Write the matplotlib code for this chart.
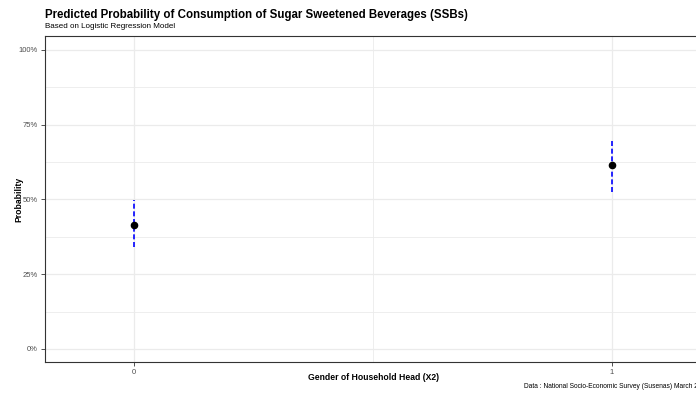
import matplotlib
matplotlib.use("Agg")
import matplotlib.pyplot as plt
from matplotlib.ticker import PercentFormatter, MultipleLocator

plt.rcParams['font.family'] = ['Liberation Sans', 'DejaVu Sans']

# predicted probabilities by gender of household head
groups = [0, 1]
group_labels = ["0", "1"]
prob = [0.416, 0.615]
ci_low = [0.341, 0.525]
ci_high = [0.498, 0.699]

fig = plt.figure(figsize=(6.96, 3.94), dpi=100)
W, H = 696, 394
left, right, top, bottom = 45, 701, 36, 362
ax = fig.add_axes([left / W, 1 - bottom / H, (right - left) / W, (bottom - top) / H])

# grid
ax.set_axisbelow(True)
ax.yaxis.set_major_locator(MultipleLocator(0.25))
ax.yaxis.set_minor_locator(MultipleLocator(0.125))
ax.set_xticks(groups)
ax.set_xticks([0.5], minor=True)
ax.grid(which='major', color='#ebebeb', linewidth=0.9)
ax.grid(which='minor', color='#ebebeb', linewidth=0.6)
ax.tick_params(which='minor', length=0)

# confidence intervals (dashed) and points
for g, lo, hi in zip(groups, ci_low, ci_high):
    ax.plot([g, g], [lo, hi], color='blue', linestyle=(0, (3, 1.6)), linewidth=1.2, zorder=2)
ax.scatter(groups, prob, s=20, color='black', zorder=3)

ax.set_xlim(-0.186, 1.186)
ax.set_ylim(-0.0435, 1.0468)
ax.yaxis.set_major_formatter(PercentFormatter(1.0, decimals=0))
ax.set_xticklabels(group_labels)

for s in ['left', 'bottom', 'top', 'right']:
    ax.spines[s].set_color('#333333')
    ax.spines[s].set_linewidth(0.8)
ax.tick_params(axis='both', which='major', labelsize=5.5, labelcolor='#4d4d4d',
               color='#333333', length=3, width=0.6, pad=2)

fig.text(19 / W, 1 - 199 / H, "Probability", fontsize=6.2, fontweight='bold',
         rotation=90, va='center', ha='center')
fig.text(373 / W, 1 - 378 / H, "Gender of Household Head (X2)", fontsize=6.2,
         fontweight='bold', va='center', ha='center')

fig.text(45 / W, 1 - 15 / H, "Predicted Probability of Consumption of Sugar Sweetened Beverages (SSBs)",
         fontsize=8.3, fontweight='bold', va='center', ha='left')
fig.text(45 / W, 1 - 26 / H, "Based on Logistic Regression Model", fontsize=5.8, va='center', ha='left')
fig.text(524 / W, 1 - 387 / H, "Data : National Socio-Economic Survey (Susenas) March 2023",
         fontsize=4.8, va='center', ha='left')

fig.savefig("out.png", dpi=100)
